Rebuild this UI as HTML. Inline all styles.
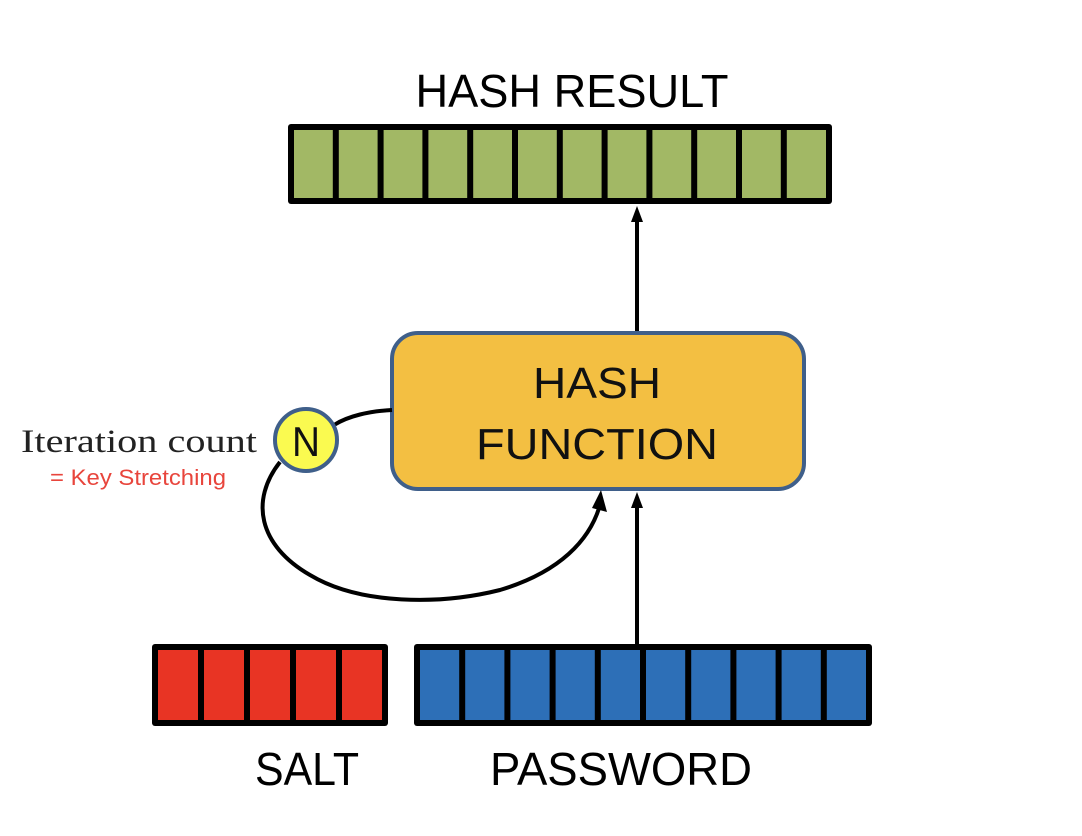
<!DOCTYPE html>
<html><head><meta charset="utf-8"><style>
html,body{margin:0;padding:0;background:#fff;}
svg{display:block;}
</style></head><body>
<svg width="1082" height="836" viewBox="0 0 1082 836" xmlns="http://www.w3.org/2000/svg">
<!-- HASH RESULT -->
<text x="572" y="107" font-family="Liberation Sans, sans-serif" font-size="46" text-anchor="middle" textLength="313" lengthAdjust="spacingAndGlyphs" fill="#000">HASH RESULT</text>
<rect x="288" y="124" width="544" height="80" fill="#000" rx="3"/>
<g fill="#A2B865">
<rect x="294" y="130" width="38.8" height="68"/><rect x="338.8" y="130" width="38.8" height="68"/><rect x="383.6" y="130" width="38.8" height="68"/><rect x="428.4" y="130" width="38.8" height="68"/><rect x="473.2" y="130" width="38.8" height="68"/><rect x="518" y="130" width="38.8" height="68"/><rect x="562.8" y="130" width="38.8" height="68"/><rect x="607.6" y="130" width="38.8" height="68"/><rect x="652.4" y="130" width="38.8" height="68"/><rect x="697.2" y="130" width="38.8" height="68"/><rect x="742" y="130" width="38.8" height="68"/><rect x="786.8" y="130" width="39.2" height="68"/>
</g>
<!-- arrow up to result -->
<line x1="637" y1="332" x2="637" y2="218" stroke="#000" stroke-width="4"/>
<path d="M631,222 L637,206 L643,222 Z" fill="#000"/>
<!-- hash function box -->
<rect x="392" y="333" width="412" height="156" rx="26" fill="#F3BF42" stroke="#3F5F8A" stroke-width="4"/>
<text x="597" y="398" font-family="Liberation Sans, sans-serif" font-size="44" text-anchor="middle" textLength="128" lengthAdjust="spacingAndGlyphs" fill="#111">HASH</text>
<text x="597" y="459" font-family="Liberation Sans, sans-serif" font-size="44" text-anchor="middle" textLength="242" lengthAdjust="spacingAndGlyphs" fill="#111">FUNCTION</text>
<!-- loop -->
<path d="M392,410 C370,411 348,416 334,425" fill="none" stroke="#000" stroke-width="4"/>
<path d="M280,462 C250,500 258,545 310,575 C360,605 440,605 500,590 C560,572 590,540 600,505" fill="none" stroke="#000" stroke-width="4"/>
<path d="M592,508 L601,490 L607,512 Z" fill="#000"/>
<circle cx="306" cy="440" r="31" fill="#FAFA50" stroke="#3F5F8A" stroke-width="4"/>
<text x="306" y="456" font-family="Liberation Sans, sans-serif" font-size="42" text-anchor="middle" textLength="28" lengthAdjust="spacingAndGlyphs" fill="#111">N</text>
<text x="21" y="452" font-family="Liberation Serif, serif" font-size="33" textLength="236" lengthAdjust="spacingAndGlyphs" fill="#222">Iteration count</text>
<text x="50" y="485" font-family="Liberation Sans, sans-serif" font-size="22" textLength="176" lengthAdjust="spacingAndGlyphs" fill="#E8453C">= Key Stretching</text>
<!-- arrow from password -->
<line x1="637" y1="644" x2="637" y2="505" stroke="#000" stroke-width="4"/>
<path d="M631,508 L637,492 L643,508 Z" fill="#000"/>
<!-- salt -->
<rect x="152" y="644" width="236" height="82" fill="#000" rx="3"/>
<g fill="#E83424">
<rect x="158" y="650" width="40" height="70"/><rect x="204" y="650" width="40" height="70"/><rect x="250" y="650" width="40" height="70"/><rect x="296" y="650" width="40" height="70"/><rect x="342" y="650" width="40" height="70"/>
</g>
<!-- password -->
<rect x="414" y="644" width="458" height="82" fill="#000" rx="3"/>
<g fill="#2D6FB7">
<rect x="420" y="650" width="39.2" height="70"/><rect x="465.2" y="650" width="39.2" height="70"/><rect x="510.4" y="650" width="39.2" height="70"/><rect x="555.6" y="650" width="39.2" height="70"/><rect x="600.8" y="650" width="39.2" height="70"/><rect x="646" y="650" width="39.2" height="70"/><rect x="691.2" y="650" width="39.2" height="70"/><rect x="736.4" y="650" width="39.2" height="70"/><rect x="781.6" y="650" width="39.2" height="70"/><rect x="826.8" y="650" width="39.2" height="70"/>
</g>
<text x="255" y="785" font-family="Liberation Sans, sans-serif" font-size="46" textLength="104" lengthAdjust="spacingAndGlyphs" fill="#000">SALT</text>
<text x="490" y="785" font-family="Liberation Sans, sans-serif" font-size="46" textLength="262" lengthAdjust="spacingAndGlyphs" fill="#000">PASSWORD</text>
</svg>
</body></html>
